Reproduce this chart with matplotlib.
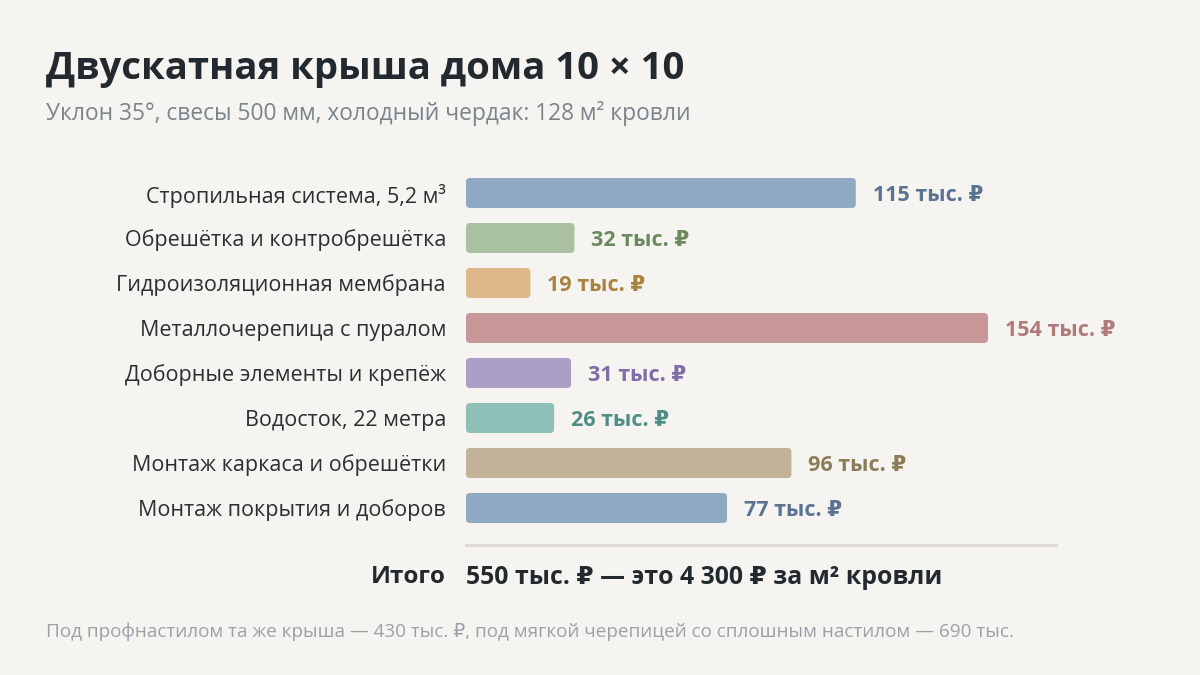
import matplotlib
matplotlib.use("Agg")
import matplotlib.pyplot as plt
from matplotlib.patches import FancyBboxPatch

categories = [
    "Стропильная система, 5,2 м³",
    "Обрешётка и контробрешётка",
    "Гидроизоляционная мембрана",
    "Металлочерепица с пуралом",
    "Доборные элементы и крепёж",
    "Водосток, 22 метра",
    "Монтаж каркаса и обрешётки",
    "Монтаж покрытия и доборов",
]
values = [115, 32, 19, 154, 31, 26, 96, 77]
value_labels = [f"{v} тыс. ₽" for v in values]
bar_colors = ["#8FA8C4", "#A9C1A0", "#DDB98A", "#C89797",
              "#AAA0C5", "#8FC0B8", "#C2B398", "#8FA8C4"]
text_colors = ["#5B7392", "#6A8A5D", "#A8823E", "#B07A7A",
               "#7E70A6", "#4E8E85", "#8C7C58", "#5B7392"]

title = "Двускатная крыша дома 10 × 10"
subtitle = "Уклон 35°, свесы 500 мм, холодный чердак: 128 м² кровли"
total_label = "Итого"
total_text = "550 тыс. ₽ — это 4 300 ₽ за м² кровли"
footer = "Под профнастилом та же крыша — 430 тыс. ₽, под мягкой черепицей со сплошным настилом — 690 тыс."

FONT = ["Open Sans", "DejaVu Sans"]
plt.rcParams["font.family"] = FONT

W, H = 1200, 675
BG = "#F6F4F0"
fig = plt.figure(figsize=(W / 100, H / 100), dpi=100, facecolor=BG)

# axes placement in pixels
x0, x1 = 466, 1056
y_top, y_bot = 170.5, 530.5
ax = fig.add_axes([x0 / W, 1 - y_bot / H, (x1 - x0) / W, (y_bot - y_top) / H])
ax.set_facecolor("none")
px_per_unit = 522 / 154
ax.set_xlim(0, (x1 - x0) / px_per_unit)
ax.set_ylim(len(values) - 0.5, -0.5)
ax.axis("off")

ypos = list(range(len(values)))
bars = ax.barh(ypos, values, height=30 / 45, color=bar_colors)

# replace with rounded bars
unit_x = 1 / px_per_unit
unit_y = 1 / 45
aspect = unit_y / unit_x
for b in bars:
    x, y = b.get_x(), b.get_y()
    w, h = b.get_width(), b.get_height()
    fb = FancyBboxPatch((x, y), w, h,
                        boxstyle=f"round,pad=0,rounding_size={4 * unit_x}",
                        mutation_aspect=aspect,
                        facecolor=b.get_facecolor(), edgecolor="none")
    b.set_visible(False)
    ax.add_patch(fb)

for i, (v, lab, tc) in enumerate(zip(values, value_labels, text_colors)):
    ax.text(v + 17 * unit_x, i, lab, ha="left", va="center_baseline",
            fontsize=15.5, fontweight="bold", color=tc)
    ax.text(-20 * unit_x, i, categories[i], ha="right", va="center_baseline",
            fontsize=15.5, color="#2B2F33")

def fx(px):
    return px / W

def fy(py):
    return 1 - py / H

fig.text(fx(46), fy(65), title, ha="left", va="center_baseline",
         fontsize=27.5, fontweight="bold", color="#22292F")
fig.text(fx(46), fy(110), subtitle, ha="left", va="center_baseline",
         fontsize=16.4, color="#7A848D")

fig.add_artist(plt.Line2D([fx(466), fx(1056)], [fy(545), fy(545)],
                          color="#DDD8CF", lw=2))
fig.text(fx(446), fy(574), total_label, ha="right", va="center_baseline",
         fontsize=17.5, fontweight="bold", color="#22292F")
fig.text(fx(466), fy(574), total_text, ha="left", va="center_baseline",
         fontsize=17.9, fontweight="bold", color="#22292F")
fig.text(fx(46), fy(630), footer, ha="left", va="center_baseline",
         fontsize=13.6, color="#9AA1A8")

fig.savefig("out.png", dpi=100, facecolor=BG)
